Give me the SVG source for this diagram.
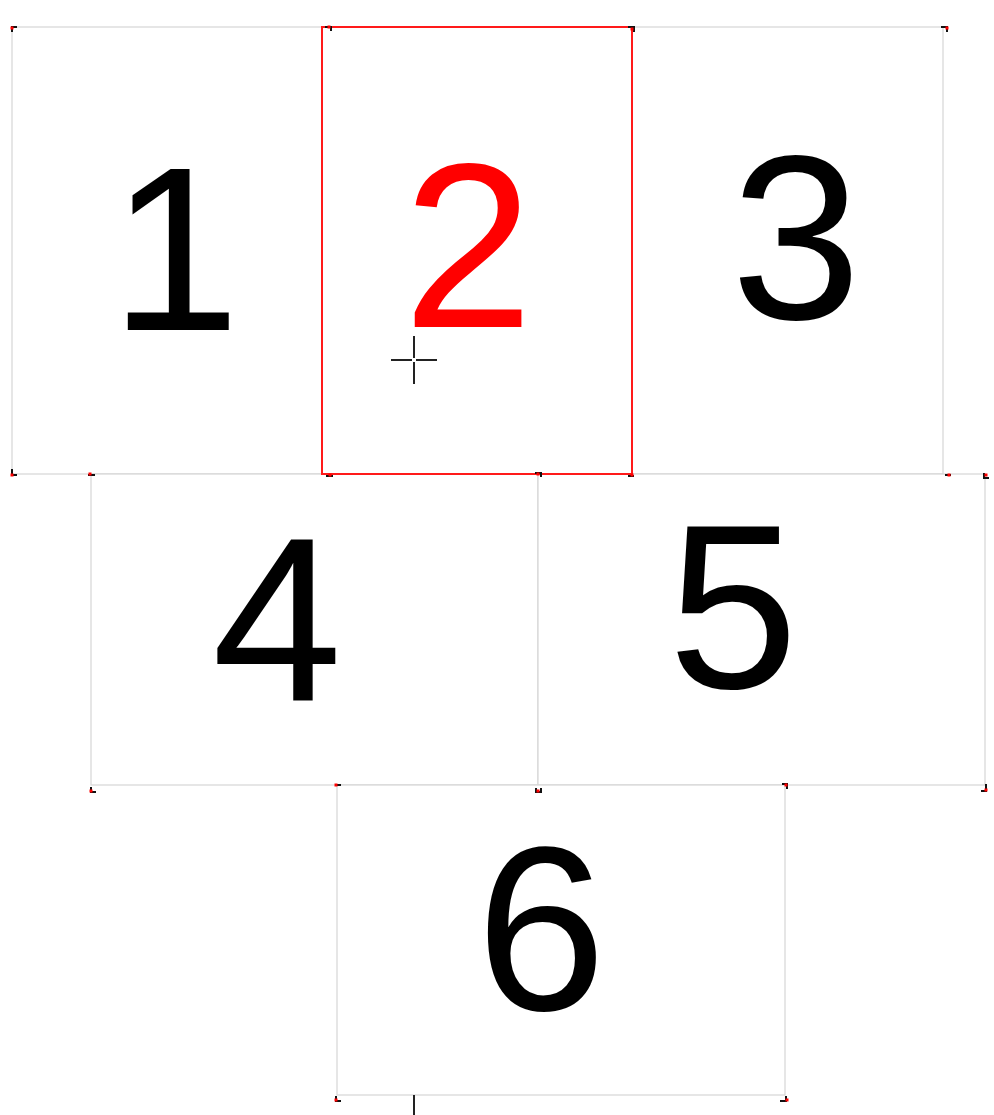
<svg xmlns="http://www.w3.org/2000/svg" width="994" height="1115" viewBox="0 0 994 1115">
<style>
.box{fill:#fff;stroke:#d6d6d6;stroke-width:1.2}
.sel{fill:none;stroke:#ff1a1a;stroke-width:2}
.num{font-family:"Liberation Sans",Arial,sans-serif;font-size:234px;fill:#000;text-anchor:middle}
.red{fill:#ff0000}
.mk{fill:none;stroke:#111;stroke-width:2}
.dot{fill:#ff0000}
.cross{stroke:#222;stroke-width:2}
</style>
<defs>
<g id="m"><rect class="dot" x="-1.5" y="-1.5" width="3" height="3"/></g>
</defs>
<rect width="994" height="1115" fill="#fff"/>
<g id="node1"><rect class="box" x="12" y="27" width="310" height="447"/><text class="num" x="175" y="330">1</text></g>
<g id="node3"><rect class="box" x="632" y="27" width="311" height="447"/><text class="num" x="796" y="319">3</text></g>
<g id="node4"><rect class="box" x="91" y="474" width="447" height="311"/><text class="num" x="277" y="700">4</text></g>
<g id="node5"><rect class="box" x="538" y="474" width="447" height="311"/><text class="num" x="733" y="688">5</text></g>
<g id="node6"><rect class="box" x="337" y="785" width="448" height="310"/><text class="num" x="541" y="1010">6</text></g>
<g id="node2"><rect class="box" x="322" y="27" width="310" height="447"/><rect class="sel" x="322" y="27" width="310" height="447"/><text class="num red" x="468" y="327">2</text></g>
<g id="markers">
<path class="mk" d="M12 32V27H17"/><use href="#m" x="12" y="28"/>
<path class="mk" d="M325 27H331V31"/><use href="#m" x="329" y="27"/>
<path class="mk" d="M628 27H634V32"/><use href="#m" x="632" y="29"/>
<path class="mk" d="M941 27H947V32"/><use href="#m" x="947" y="28"/>
<path class="mk" d="M12 469V475H17"/><use href="#m" x="12" y="475"/>
<path class="mk" d="M88 475H95"/><use href="#m" x="90" y="474"/>
<path class="mk" d="M326 476H333"/><use href="#m" x="330" y="475"/>
<path class="mk" d="M535 473H541V477"/><use href="#m" x="538" y="474"/>
<path class="mk" d="M628 476H634"/><use href="#m" x="632" y="475"/>
<path class="mk" d="M945 475H951"/><use href="#m" x="949" y="475"/>
<path class="mk" d="M984 473V478H989"/><use href="#m" x="986" y="475"/>
<path class="mk" d="M91 787V792H96"/><use href="#m" x="91" y="791"/>
<path class="mk" d="M335 785H341"/><use href="#m" x="336" y="785"/>
<path class="mk" d="M536 788V792H541V788"/><use href="#m" x="538" y="791"/>
<path class="mk" d="M782 784H787V789"/><use href="#m" x="786" y="785"/>
<path class="mk" d="M986 784V791H981"/><use href="#m" x="986" y="790"/>
<path class="mk" d="M336 1096V1101H341"/><use href="#m" x="336" y="1100"/>
<path class="mk" d="M786 1096V1101H780"/><use href="#m" x="787" y="1100"/>
</g>
<g id="cursor">
<line class="cross" x1="391" y1="360" x2="412" y2="360"/>
<line class="cross" x1="416" y1="360" x2="437" y2="360"/>
<line class="cross" x1="414" y1="336" x2="414" y2="358"/>
<line class="cross" x1="414" y1="362" x2="414" y2="384"/>
<line class="cross" x1="414" y1="1095" x2="414" y2="1115"/>
</g>
</svg>
